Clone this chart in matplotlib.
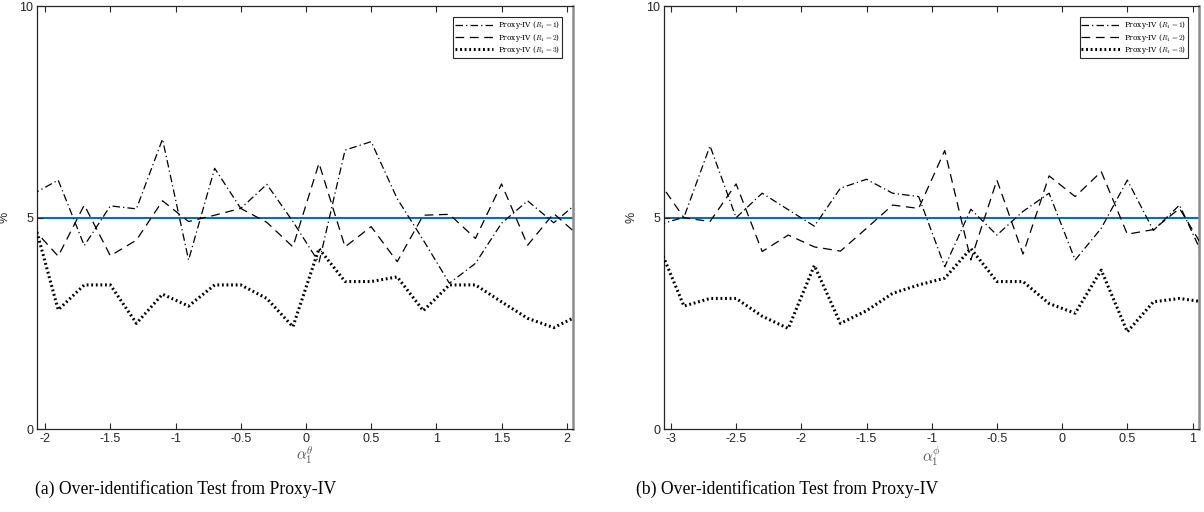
import matplotlib
matplotlib.use("Agg")
import matplotlib.pyplot as plt

# grid of alpha values for each panel
x_theta = [-2.1, -1.9, -1.7, -1.5, -1.3, -1.1, -0.9, -0.7, -0.5, -0.3, -0.1,
           0.1, 0.3, 0.5, 0.7, 0.9, 1.1, 1.3, 1.5, 1.7, 1.9, 2.1]
x_phi = [-3.1, -2.9, -2.7, -2.5, -2.3, -2.1, -1.9, -1.7, -1.5, -1.3, -1.1,
         -0.9, -0.7, -0.5, -0.3, -0.1, 0.1, 0.3, 0.5, 0.7, 0.9, 1.1]

# rejection rates (%) - panel (a)
a_r1 = [5.55, 5.89, 4.34, 5.28, 5.21, 6.86, 4.00, 6.17, 5.22, 5.79, 4.91,
        3.94, 6.60, 6.80, 5.45, 4.47, 3.45, 3.92, 4.87, 5.40, 4.88, 5.40]
a_r2 = [4.77, 4.09, 5.30, 4.10, 4.47, 5.40, 4.91, 5.06, 5.22, 4.89, 4.31,
        6.29, 4.31, 4.79, 3.96, 5.06, 5.08, 4.51, 5.80, 4.35, 5.10, 4.55]
a_r3 = [5.08, 2.82, 3.41, 3.41, 2.50, 3.19, 2.91, 3.41, 3.41, 3.09, 2.42,
        4.27, 3.49, 3.49, 3.60, 2.80, 3.41, 3.41, 3.01, 2.62, 2.40, 2.70]

# rejection rates (%) - panel (b)
b_r1 = [4.83, 5.01, 6.70, 5.00, 5.58, 5.19, 4.80, 5.70, 5.91, 5.58, 5.50,
        3.84, 5.20, 4.59, 5.15, 5.58, 4.00, 4.75, 5.89, 4.70, 5.30, 3.97]
b_r2 = [5.89, 5.00, 4.91, 5.80, 4.20, 4.59, 4.31, 4.21, 4.75, 5.30, 5.22,
        6.59, 4.00, 5.89, 4.14, 5.99, 5.50, 6.09, 4.61, 4.72, 5.22, 4.20]
b_r3 = [4.39, 2.91, 3.09, 3.09, 2.67, 2.38, 3.87, 2.50, 2.80, 3.21, 3.41,
        3.57, 4.27, 3.49, 3.49, 2.97, 2.74, 3.76, 2.30, 3.01, 3.09, 3.00]

nominal = 5
labels = [r"Proxy-IV ($R_1 = 1$)", r"Proxy-IV ($R_1 = 2$)", r"Proxy-IV ($R_1 = 3$)"]

plt.rcParams["mathtext.fontset"] = "cm"
tick_font = "Liberation Sans"
dark = "#262626"

fig = plt.figure(figsize=(12.04, 5.12), dpi=100)
ax1 = fig.add_axes([0.031, 0.162, 0.4447, 0.8255])
ax2 = fig.add_axes([0.5518, 0.162, 0.4441, 0.8255])


def draw(ax, x, r1, r2, r3, xlim, xticks, xlab, caption, cap_x):
    ax.axhline(nominal, color="#0072BD", lw=1.5, zorder=1)
    l1, = ax.plot(x, r1, color="black", lw=0.9, dashes=(6, 2.5, 1, 2.5), zorder=3)
    l2, = ax.plot(x, r2, color="black", lw=0.9, dashes=(7, 4.5), zorder=3)
    l3, = ax.plot(x, r3, color="black", lw=2.2, dashes=(0.6, 0.9), zorder=3)
    ax.set_xlim(xlim)
    ax.set_ylim(0, 10)
    ax.set_xticks(xticks)
    ax.set_xticklabels(["%g" % t for t in xticks])
    ax.set_yticks([0, 5, 10])
    ax.tick_params(direction="in", top=True, right=False, length=4, width=0.8,
                   labelsize=9, colors=dark, pad=3)
    for lab in ax.get_xticklabels() + ax.get_yticklabels():
        lab.set_fontfamily(tick_font)
    for side in ["left", "bottom", "top"]:
        ax.spines[side].set_color(dark)
        ax.spines[side].set_linewidth(0.9)
    ax.spines["right"].set_color("#8c8c8c")
    ax.spines["right"].set_linewidth(1.8)
    ax.set_xlabel(xlab, fontsize=11, color="#555555", labelpad=0)
    ax.set_ylabel("%", fontsize=9, color=dark, family=tick_font, labelpad=6)
    leg = ax.legend([l1, l2, l3], labels, loc="upper right",
                    prop={"family": "DejaVu Serif", "size": 5.3},
                    fancybox=False, edgecolor=dark, framealpha=1,
                    borderaxespad=1.5, handlelength=5.2, handletextpad=0.6,
                    borderpad=0.25, labelspacing=0.05)
    leg.get_frame().set_linewidth(0.8)
    fig.text(cap_x, 0.035, caption, ha="center", va="baseline",
             fontsize=12.7, family="Liberation Serif")


draw(ax1, x_theta, a_r1, a_r2, a_r3, (-2.06, 2.046),
     [-2, -1.5, -1, -0.5, 0, 0.5, 1, 1.5, 2], r"$\alpha_1^\theta$",
     "(a) Over-identification Test from Proxy-IV", 0.1545)
draw(ax2, x_phi, b_r1, b_r2, b_r3, (-3.05, 1.05),
     [-3, -2.5, -2, -1.5, -1, -0.5, 0, 0.5, 1], r"$\alpha_1^\phi$",
     "(b) Over-identification Test from Proxy-IV", 0.6537)

fig.savefig("out.png", dpi=100)
